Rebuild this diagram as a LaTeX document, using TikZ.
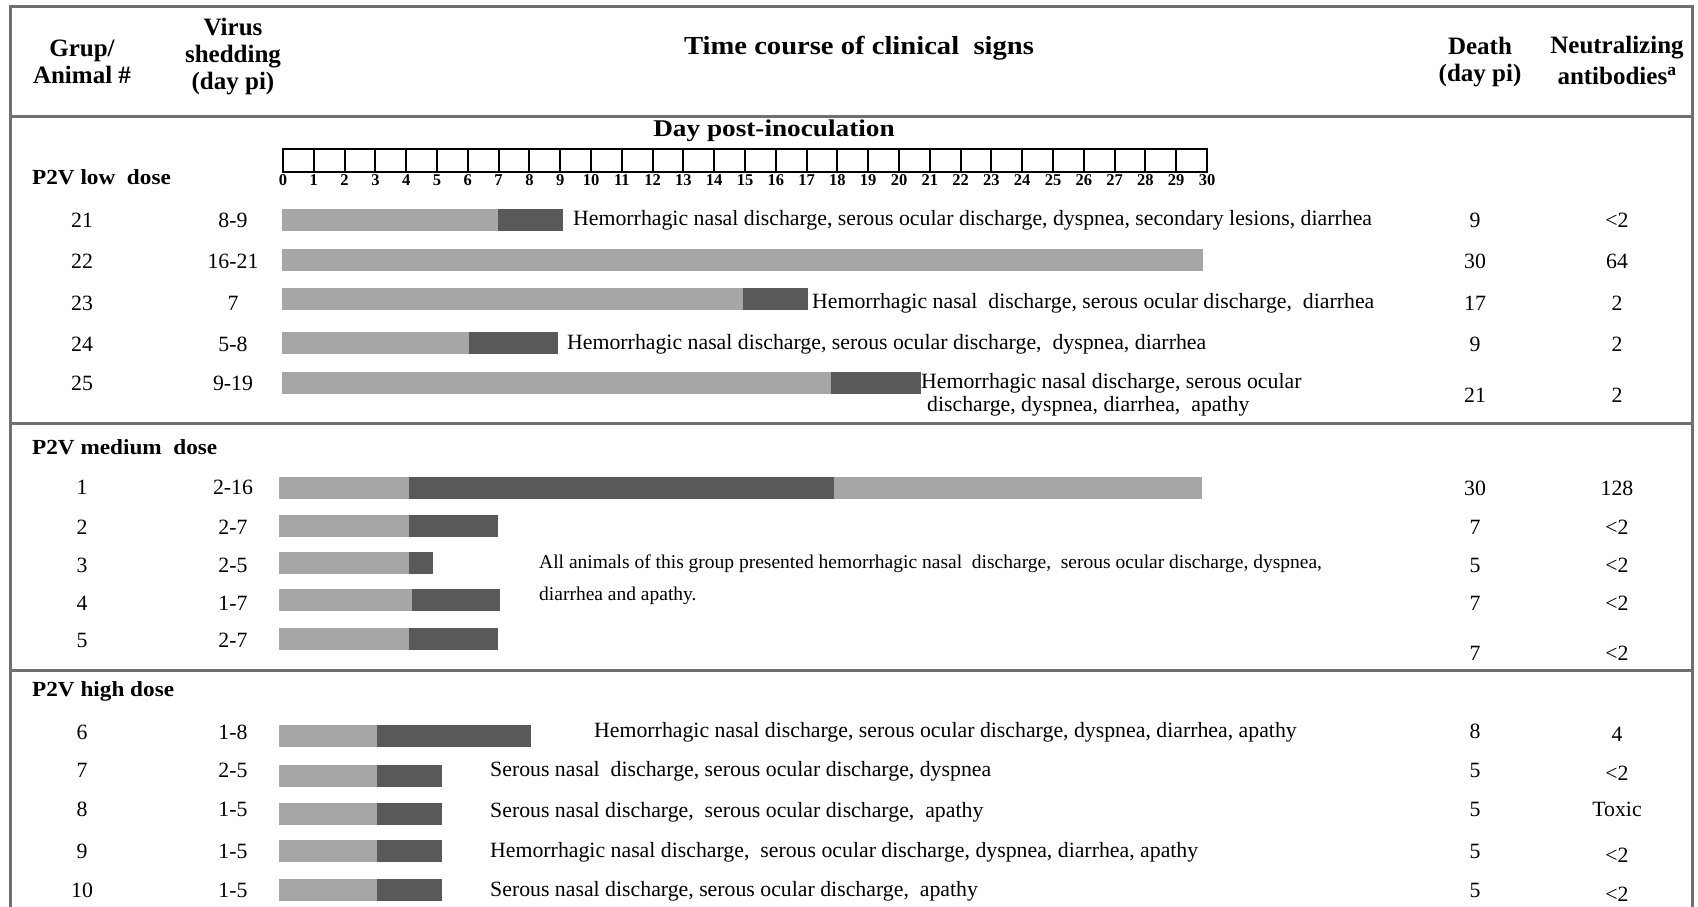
\documentclass[tikz,border=0pt]{standalone}
\usepackage{fontspec}
\setmainfont{Liberation Serif}
\newfontface\widebf[FakeStretch=1.1]{Liberation Serif Bold}
\newfontface\widerbf[FakeStretch=1.135]{Liberation Serif Bold}
\newfontface\grpbf[FakeStretch=1.08]{Liberation Serif Bold}
\definecolor{lightbar}{HTML}{A6A6A6}
\definecolor{darkbar}{HTML}{595959}
\definecolor{framecol}{HTML}{707070}
\begin{document}
\begin{tikzpicture}[x=1pt,y=-1pt,
  hdr/.style={font=\fontsize{25}{27}\selectfont\bfseries, align=center, inner sep=0pt},
  cell/.style={font=\fontsize{21.8}{24}\selectfont, anchor=center, inner sep=0pt},
  sign/.style={font=\fontsize{21.8}{24}\selectfont, anchor=west, inner sep=0pt},
  note/.style={font=\fontsize{19.5}{22}\selectfont, anchor=west, inner sep=0pt},
  grp/.style={font=\fontsize{21.5}{24}\grpbf, anchor=west, inner sep=0pt},
  rulel/.style={draw=framecol, line width=3pt},
  tickl/.style={line width=2pt},
  ticklab/.style={font=\fontsize{16.5}{16.5}\selectfont\bfseries, inner sep=0pt}
]
\useasboundingbox (0,0) rectangle (1698,907);
\fill[white] (0,0) rectangle (1698,907);
% frame
\draw[rulel] (10,907) -- (10,7) -- (1692,7) -- (1692,907);
\draw[rulel] (10,116) -- (1692,116);
\draw[rulel] (10,423) -- (1692,423);
\draw[rulel] (10,670) -- (1692,670);
% header
\node[hdr] (hgrp) at (82,62) {Grup/\\Animal \#};
\node[hdr] (hvir) at (233,57) {Virus\\shedding\\(day pi)};
\node[hdr, font=\fontsize{26}{28}\widebf] (htime) at (859,48) {Time course of clinical\ \ signs};
\node[hdr] (hdeath) at (1480,62) {Death\\(day pi)};
\node[hdr] (hneut) at (1617,60) {Neutralizing\\[4pt]antibodies\textsuperscript{a}};
% axis
\node[hdr, font=\fontsize{24}{26}\widerbf] (dpi) at (774,131) {Day post-inoculation};
\draw[tickl] (283,149) rectangle (1207,172);
\foreach \i in {1,...,29} \draw[tickl] ({283+\i*30.8},149) -- ++(0,23);
\foreach \i in {0,...,30} \node[ticklab] (t\i) at ({283+\i*30.8},180) {\i};
% group labels
\node[grp] (glow) at (32,177) {P2V low\ \ dose};
\node[grp] (gmed) at (32,447) {P2V medium\ \ dose};
\node[grp] (ghigh) at (32,691) {P2V high dose};
% rows: animal / y / shedding / death / death y / antibodies / antibodies y
\foreach \n/\y/\s/\d/\dy/\ab/\aby in {
  21/220/8-9/9/220/<2/220,
  22/261/16-21/30/261/64/261,
  23/303/7/17/303/2/303,
  24/344/5-8/9/344/2/344,
  25/383/9-19/21/395/2/395,
  1/487/2-16/30/488/128/488,
  2/527/2-7/7/527/<2/527,
  3/565/2-5/5/565/<2/565,
  4/603/1-7/7/603/<2/603,
  5/640/2-7/7/653/<2/653,
  6/732/1-8/8/731/4/734,
  7/770/2-5/5/770/<2/773,
  8/809/1-5/5/809/Toxic/809,
  9/851/1-5/5/851/<2/855,
  10/890/1-5/5/890/<2/894}{
  \node[cell] (a\n) at (82,\y) {\n};
  \node[cell] (s\n) at (233,\y) {\s};
  \node[cell] (d\n) at (1475,\dy) {\d};
  \node[cell] (n\n) at (1617,\aby) {\ab};
}
% bars: y / start / light end / dark end
\foreach \y/\a/\b/\c in {
  220/281.6/498.1/563.1,
  299/281.6/742.9/807.9,
  343/281.6/468.9/557.7,
  383/281.6/830.6/920.5,
  526/279.4/409.3/498.1,
  563/279.4/409.3/433.2,
  600/279.4/411.5/500.3,
  639/279.4/409.3/498.1,
  736/279.4/376.9/530.6,
  776/279.4/376.9/441.8,
  814/279.4/376.9/441.8,
  851/279.4/376.9/441.8,
  890/279.4/376.9/441.8}{
  \fill[lightbar] (\a,{\y-11}) rectangle (\b,{\y+11});
  \fill[darkbar] (\b,{\y-11}) rectangle (\c,{\y+11});
}
\fill[lightbar] (281.6,249) rectangle (1203.1,271);
\fill[lightbar] (279.4,477) rectangle (409.3,499);
\fill[darkbar] (409.3,477) rectangle (833.8,499);
\fill[lightbar] (833.8,477) rectangle (1202,499);
% clinical signs
\node[sign] (c21) at (573,220) {Hemorrhagic nasal discharge, serous ocular discharge, dyspnea, secondary lesions, diarrhea};
\node[sign] (c23) at (812,303) {Hemorrhagic nasal\ \ discharge, serous ocular discharge,\ \ diarrhea};
\node[sign] (c24) at (567,344) {Hemorrhagic nasal discharge, serous ocular discharge,\ \ dyspnea, diarrhea};
\node[sign] (c25a) at (921,383) {Hemorrhagic nasal discharge, serous ocular};
\node[sign] (c25b) at (927,406) {discharge, dyspnea, diarrhea,\ \ apathy};
\node[note] (cmeda) at (539,564) {All animals of this group presented hemorrhagic nasal\ \ discharge,\ \ serous ocular discharge, dyspnea,};
\node[note] (cmedb) at (539,596) {diarrhea and apathy.};
\node[sign] (c6) at (594,732) {Hemorrhagic nasal discharge, serous ocular discharge, dyspnea, diarrhea, apathy};
\node[sign] (c7) at (490,771) {Serous nasal\ \ discharge, serous ocular discharge, dyspnea};
\node[sign] (c8) at (490,812) {Serous nasal discharge,\ \ serous ocular discharge,\ \ apathy};
\node[sign] (c9) at (490,852) {Hemorrhagic nasal discharge,\ \ serous ocular discharge, dyspnea, diarrhea, apathy};
\node[sign] (c10) at (490,891) {Serous nasal discharge, serous ocular discharge,\ \ apathy};
\end{tikzpicture}
\end{document}
